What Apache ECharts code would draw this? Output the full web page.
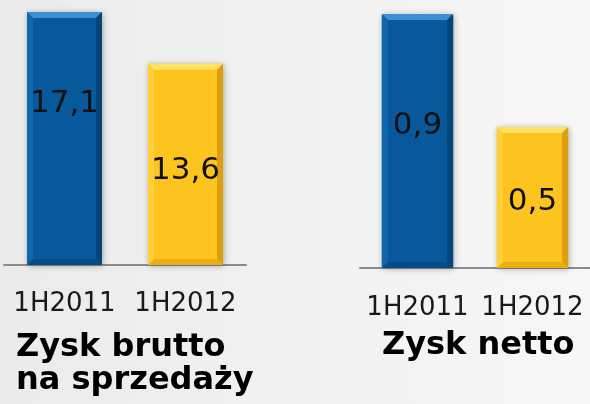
<!DOCTYPE html>
<html>
<head>
<meta charset="utf-8">
<script src="https://cdn.jsdelivr.net/npm/echarts@6/dist/echarts.min.js"></script>
<style>
  html, body { margin: 0; padding: 0; }
  #chart { width: 590px; height: 404px; }
</style>
</head>
<body>
<div id="chart"></div>
<script>
// dane
const categories = ['1H2011', '1H2012']
const grossProfit = [17.1, 13.6]
const netProfit = [0.9, 0.5]
const panelTitles = ['Zysk brutto\nna sprzedaży', 'Zysk netto']

const FONT = '"DejaVu Sans", Verdana, sans-serif'

// kolory słupków (niebieski / żółty) z fazowaniem
const palette = [
  { main: '#07599c', top: '#3d8fd2', left: '#0f67ae', right: '#044579', bottom: '#054c86' },
  { main: '#fdc41f', top: '#ffe263', left: '#ffcf3a', right: '#dda00c', bottom: '#e8ae12' }
]

const fmt = v => v.toFixed(1).replace('.', ',')

// słupek z efektem fazowania + etykieta wartości
function bevelBar (labelAt) {
  return function (params, api) {
    const i = api.value(0)
    const v = api.value(1)
    const top = api.coord([i, v])
    const base = api.coord([i, 0])
    const w = api.size([1, 0])[0] * 0.62
    const x = top[0] - w / 2
    const y = top[1]
    const h = base[1] - top[1]
    const c = palette[i]
    const b = 6
    return {
      type: 'group',
      children: [
        { type: 'rect', shape: { x, y, width: w, height: h, r: 2 }, style: { fill: c.main, shadowBlur: 6, shadowColor: 'rgba(0,0,0,0.3)', shadowOffsetX: 1, shadowOffsetY: 1 } },
        { type: 'polygon', shape: { points: [[x, y], [x + w, y], [x + w - b, y + b], [x + b, y + b]] }, style: { fill: c.top } },
        { type: 'polygon', shape: { points: [[x + w, y], [x + w, y + h], [x + w - b, y + h - b], [x + w - b, y + b]] }, style: { fill: c.right } },
        { type: 'polygon', shape: { points: [[x, y + h], [x + w, y + h], [x + w - b, y + h - b], [x + b, y + h - b]] }, style: { fill: c.bottom } },
        { type: 'polygon', shape: { points: [[x, y], [x + b, y + b], [x + b, y + h - b], [x, y + h]] }, style: { fill: c.left } },
        {
          type: 'text',
          style: {
            text: fmt(v),
            x: top[0],
            y: y + h * labelAt[i] + 3,
            align: 'center',
            verticalAlign: 'middle',
            font: '31px ' + FONT,
            fill: '#111'
          }
        }
      ]
    }
  }
}

const axisLabel = (margin) => ({
  color: '#1a1a1a',
  fontSize: 26,
  fontFamily: FONT,
  interval: 0,
  margin: margin
})

const titleStyle = { fontSize: 32, fontWeight: 'bold', color: '#000', lineHeight: 33, fontFamily: FONT }

const chart = echarts.init(document.getElementById('chart'))
chart.setOption({
  backgroundColor: new echarts.graphic.LinearGradient(0, 0, 1, 0, [
    { offset: 0, color: '#ebebeb' },
    { offset: 1, color: '#f7f7f7' }
  ]),
  animation: false,
  title: [
    { text: panelTitles[0], left: 16, top: 331, padding: 0, textStyle: titleStyle },
    { text: panelTitles[1], left: 382, top: 329, padding: 0, textStyle: titleStyle }
  ],
  grid: [
    { left: 4, right: 344, top: 12, bottom: 139 },
    { left: 360, right: 0, top: 14, bottom: 136 }
  ],
  xAxis: [
    {
      gridIndex: 0,
      type: 'category',
      data: categories,
      axisTick: { show: false },
      axisLine: { lineStyle: { color: '#8c8c8c', width: 2 } },
      axisLabel: axisLabel(26)
    },
    {
      gridIndex: 1,
      type: 'category',
      data: categories,
      axisTick: { show: false },
      axisLine: { lineStyle: { color: '#8c8c8c', width: 2 } },
      axisLabel: axisLabel(27)
    }
  ],
  yAxis: [
    { gridIndex: 0, type: 'value', min: 0, max: 17.1, show: false },
    { gridIndex: 1, type: 'value', min: 0, max: 0.9, show: false }
  ],
  series: [
    {
      type: 'custom',
      xAxisIndex: 0,
      yAxisIndex: 0,
      renderItem: bevelBar([0.35, 0.52]),
      encode: { x: 0, y: 1 },
      data: grossProfit.map((v, i) => [i, v])
    },
    {
      type: 'custom',
      xAxisIndex: 1,
      yAxisIndex: 1,
      renderItem: bevelBar([0.43, 0.51]),
      encode: { x: 0, y: 1 },
      data: netProfit.map((v, i) => [i, v])
    }
  ]
})
</script>
</body>
</html>
